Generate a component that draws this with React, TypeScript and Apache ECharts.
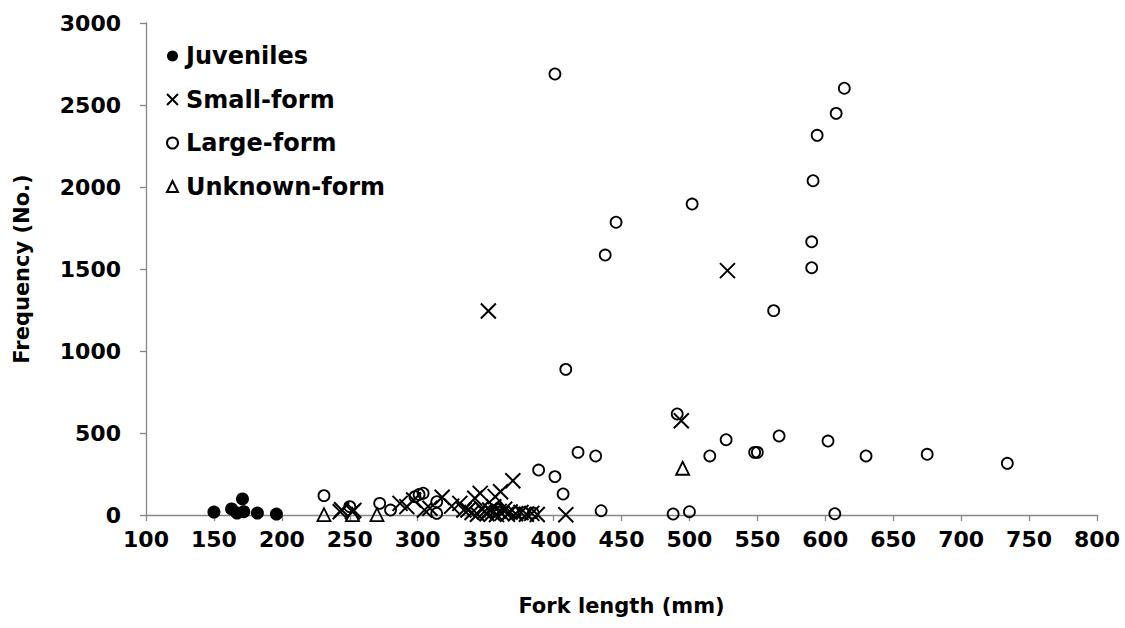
import React, { useEffect, useRef } from "react";
import * as echarts from "echarts";

const seriesNames = ["Juveniles", "Small-form", "Large-form", "Unknown-form"];

const juveniles: number[][] = [
  [150, 18], [163, 37], [167, 12], [171, 98], [172, 20], [182, 12], [196, 6],
];

const smallForm: number[][] = [
  [243, 20], [244, 32], [252, 20], [253, 28], [287, 71], [292, 51], [297, 91],
  [305, 30], [309, 41], [318, 108], [325, 54], [331, 71], [334, 30], [337, 30],
  [340, 15], [342, 102], [344, 5], [346, 132], [347, 40], [349, 20], [351, 8],
  [352, 1244], [353, 30], [355, 12], [356, 50], [357, 112], [358, 3], [360, 22],
  [361, 142], [362, 10], [364, 35], [366, 5], [368, 18], [370, 209], [372, 8],
  [376, 15], [380, 5], [384, 10], [388, 3], [409, 2], [494, 575], [528, 1490],
];

const largeForm: number[][] = [
  [231, 118], [250, 51], [272, 71], [280, 30], [298, 112], [301, 125], [304, 133],
  [314, 81], [314, 10], [356, 25], [360, 35], [372, 15], [378, 12], [385, 12],
  [389, 274], [401, 234], [401, 2689], [407, 128], [409, 888], [418, 382],
  [431, 360], [435, 26], [438, 1585], [446, 1785], [488, 6], [491, 616],
  [500, 20], [502, 1896], [515, 360], [527, 459], [548, 382], [550, 382],
  [562, 1246], [566, 482], [590, 1508], [590, 1666], [591, 2038], [594, 2315],
  [602, 451], [607, 8], [608, 2449], [614, 2602], [630, 360], [675, 370], [734, 315],
];

const unknownForm: number[][] = [
  [231, 2], [252, 2], [270, 2], [495, 285],
];

const xTicks = { min: 100, max: 800, interval: 50 };
const yTicks = { min: 0, max: 3000, interval: 500 };

const FONT = "DejaVu Sans";
const AXIS_GRAY = "#868686";

export default function App() {
  const ref = useRef<HTMLDivElement>(null);

  useEffect(() => {
    if (!ref.current) return;
    const chart = echarts.init(ref.current, undefined, { renderer: "svg" });
    const axisCommon = {
      type: "value" as const,
      splitLine: { show: false },
      axisLine: { show: true, lineStyle: { color: AXIS_GRAY, width: 1.3 } },
      axisTick: { show: true, inside: false, length: 6, lineStyle: { color: AXIS_GRAY, width: 1.3 } },
      nameTextStyle: { fontFamily: FONT, fontWeight: "bold" as const, fontSize: 21, color: "#000" },
    };
    const labelStyle = {
      fontFamily: FONT,
      fontWeight: "bold" as const,
      fontSize: 22,
      color: "#000",
      formatter: (v: number) => String(v),
    };
    chart.setOption({
      animation: false,
      backgroundColor: "#fff",
      grid: { left: 146, right: 28, top: 23, bottom: 113, containLabel: false },
      legend: {
        orient: "vertical",
        left: 161,
        top: 39,
        itemWidth: 11,
        itemHeight: 11,
        itemGap: 19.5,
        selectedMode: false,
        data: seriesNames,
        textStyle: { fontFamily: FONT, fontWeight: "bold", fontSize: 24, color: "#000", padding: [0, 0, 0, 3] },
      },
      xAxis: {
        ...axisCommon,
        min: xTicks.min,
        max: xTicks.max,
        interval: xTicks.interval,
        name: "Fork length (mm)",
        nameLocation: "middle",
        nameGap: 80,
        axisLabel: { ...labelStyle, margin: 13 },
      },
      yAxis: {
        ...axisCommon,
        min: yTicks.min,
        max: yTicks.max,
        interval: yTicks.interval,
        name: "Frequency (No.)",
        nameLocation: "middle",
        nameGap: 114,
        axisLabel: { ...labelStyle, margin: 25 },
      },
      series: [
        {
          name: seriesNames[0],
          type: "scatter",
          data: juveniles,
          symbol: "circle",
          symbolSize: 13,
          itemStyle: { color: "#000", borderColor: "#000", borderWidth: 0, opacity: 1 },
        },
        {
          name: seriesNames[1],
          type: "scatter",
          data: smallForm,
          symbol: "path://M0,0L10,10M10,0L0,10",
          symbolSize: 15,
          itemStyle: { color: "rgba(0,0,0,0)", borderColor: "#000", borderWidth: 2, opacity: 1 },
        },
        {
          name: seriesNames[2],
          type: "scatter",
          data: largeForm,
          symbol: "circle",
          symbolSize: 11,
          itemStyle: { color: "rgba(0,0,0,0)", borderColor: "#000", borderWidth: 1.8, opacity: 1 },
        },
        {
          name: seriesNames[3],
          type: "scatter",
          data: unknownForm,
          symbol: "triangle",
          symbolSize: 13,
          itemStyle: { color: "rgba(0,0,0,0)", borderColor: "#000", borderWidth: 1.8, opacity: 1 },
        },
      ],
    });
    return () => chart.dispose();
  }, []);

  return (
    <div
      ref={ref}
      style={{ position: "fixed", left: 0, top: 0, width: 1125, height: 628, background: "#fff" }}
    />
  );
}
